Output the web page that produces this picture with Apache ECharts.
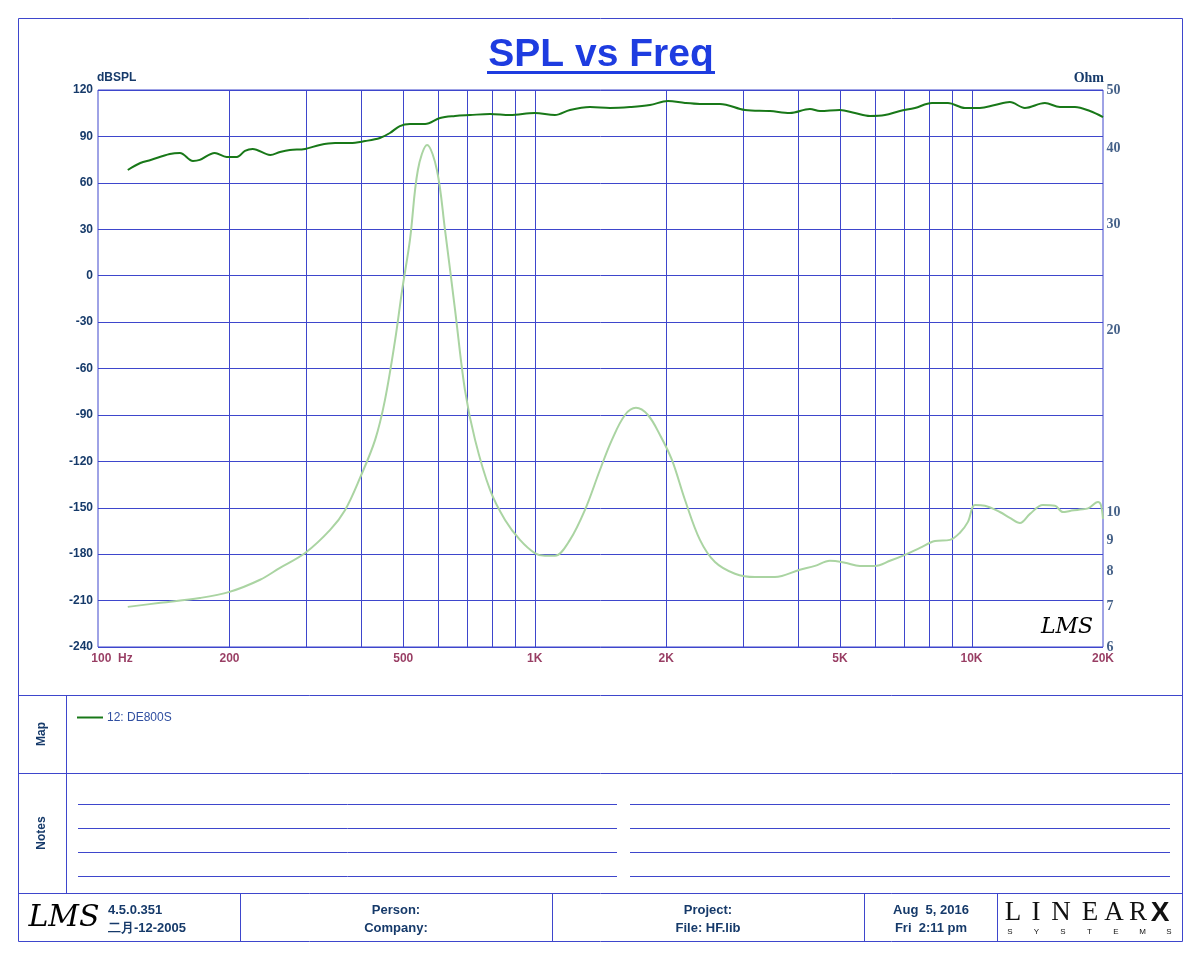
<!DOCTYPE html>
<html>
<head>
<meta charset="utf-8">
<style>html,body{margin:0;padding:0;background:#fff}#c{width:1200px;height:960px}</style>
<script src="https://cdn.jsdelivr.net/npm/echarts@6/dist/echarts.min.js"></script>
</head>
<body>
<div id="c"></div>
<script>
// ---- data ----
const splFreq = [117,125,132,146,154,165,171,185,197,208,217,226,248,261,275,298,322,349,378,409,442,466,491,518,561,607,657,711,790,878,1000,1112,1204,1338,1487,1652,1835,2018,2208,2389,2655,3029,3455,3839,4266,4498,4996,5408,5854,6335,6857,7421,8117,8831,9658,10450,11310,12240,13250,14720,15940,17250,18670,20000];
const splDb = [68.3,72.8,74.8,78.6,79.3,74.1,74.8,79.3,76.7,76.7,80.6,81.9,78.0,79.9,81.2,81.9,84.5,85.7,85.7,87.0,89.0,92.2,96.7,98.0,98.0,101.9,103.2,103.8,104.5,103.8,105.1,103.8,107.1,109.0,108.4,109.0,110.3,112.9,111.6,111.0,111.0,107.1,106.4,105.1,107.7,106.4,107.1,105.1,103.2,103.8,106.4,108.4,111.6,111.6,108.4,108.4,110.3,112.2,108.4,111.6,109.0,109.0,106.4,102.5];
const zFreq = [117,139,171,200,235,261,298,340,368,398,431,454,479,497,518,540,567,597,623,657,692,730,790,855,925,1000,1055,1112,1204,1303,1410,1502,1609,1705,1816,1935,2061,2208,2389,2586,2873,3192,3547,4046,4380,4740,5131,5552,6009,6505,7039,7619,8246,8922,9407,9813,10180,10730,11610,12240,12910,13610,14570,15520,16190,16800,17710,18480,19480,19780,20000];
const zOhm = [6.99,7.10,7.23,7.40,7.75,8.11,8.58,9.37,10.11,11.42,13.20,15.37,19.31,23.35,28.3,36.88,40.56,36.88,29.35,21.64,15.97,13.20,10.91,9.73,9.02,8.58,8.49,8.49,9.02,10.11,11.77,13.20,14.51,14.91,14.51,13.45,12.23,10.50,9.02,8.29,7.93,7.83,7.83,8.05,8.17,8.33,8.27,8.17,8.17,8.33,8.52,8.75,8.98,9.02,9.27,9.66,10.30,10.27,10.03,9.81,9.62,9.96,10.30,10.27,10.03,10.07,10.13,10.17,10.42,10.30,9.77];
const xTickFreqs = [100,200,500,1000,2000,5000,10000,20000];
const xTickLabels = ['100  Hz','200','500','1K','2K','5K','10K','20K'];
const xGridFreqs = [200,300,400,500,600,700,800,900,1000,2000,3000,4000,5000,6000,7000,8000,9000,10000];
const ohmTicks = [6,7,8,9,10,20,30,40,50];
const seriesName = '12: DE800S';

// ---- styles ----
const BLUE = '#3e46cc';
const NAVY = '#163a6a';
const MAROON = '#7e0c3c';
const SPL_COLOR = '#187818';
const Z_COLOR = '#aad4a2';
const SANS = '"Liberation Sans", Arial, sans-serif';
const NARROW = '"Liberation Sans Narrow", "Arial Narrow", "Liberation Sans", sans-serif';
const SERIF = '"Liberation Serif", "Times New Roman", serif';

const chart = echarts.init(document.getElementById('c'), null, {renderer: 'canvas'});

function hline(x1, x2, y, w, c) {
  return {type: 'line', silent: true, shape: {x1: x1, y1: y, x2: x2, y2: y}, style: {stroke: c || BLUE, lineWidth: w || 1}};
}
function vline(x, y1, y2, w, c) {
  return {type: 'line', silent: true, shape: {x1: x, y1: y1, x2: x, y2: y2}, style: {stroke: c || BLUE, lineWidth: w || 1}};
}
function txt(x, y, t, font, color, align, valign, rot) {
  return {type: 'text', silent: true, x: x, y: y, rotation: rot || 0,
    style: {text: t, font: font, fill: color || NAVY, textAlign: align || 'left', textVerticalAlign: valign || 'middle'}};
}

const graphics = [];
graphics.push({type: 'rect', silent: true, shape: {x: 18.5, y: 18.5, width: 1164, height: 923}, style: {fill: null, stroke: BLUE, lineWidth: 1}});
graphics.push(hline(18, 1183, 695.5));
graphics.push(hline(18, 1183, 773.5));
graphics.push(hline(18, 1183, 893.5));
graphics.push(vline(66.5, 695, 893));
[240.5, 552.5, 864.5, 997.5].forEach(x => graphics.push(vline(x, 893, 942)));
// notes lines
[804.5, 828.5, 852.5, 876.5].forEach(y => {
  graphics.push(hline(78, 617, y));
  graphics.push(hline(630, 1170, y));
});
// title
graphics.push(txt(601, 55, 'SPL vs Freq', 'bold 39px ' + SANS, '#1e3ce0', 'center', 'middle'));
graphics.push({type: 'rect', silent: true, shape: {x: 487, y: 71, width: 228, height: 3}, style: {fill: '#1e3ce0'}});
// axis names
graphics.push(txt(97, 78, 'dBSPL', 'bold 12px ' + SANS, NAVY, 'left', 'middle'));
graphics.push(txt(1104, 78, 'Ohm', 'bold 14px ' + SERIF, NAVY, 'right', 'middle'));
// LMS in plot
graphics.push(txt(1067, 627, 'LMS', 'italic 22px "DejaVu Serif", serif', '#000', 'center', 'middle'));
// Map / Notes labels
graphics.push(txt(42, 734, 'Map', 'bold 12px ' + SANS, NAVY, 'center', 'middle', Math.PI / 2));
graphics.push(txt(42, 833, 'Notes', 'bold 12px ' + SANS, NAVY, 'center', 'middle', Math.PI / 2));
// legend
graphics.push(hline(77, 103, 717.5, 2, SPL_COLOR));
graphics.push(txt(107, 718, seriesName, '12px ' + SANS, '#2f4ea0', 'left', 'middle'));
// footer
graphics.push(txt(64, 918, 'LMS', 'italic 30px "DejaVu Serif", serif', '#000', 'center', 'middle'));
graphics.push(txt(108, 910, '4.5.0.351', 'bold 13px ' + NARROW, NAVY, 'left', 'middle'));
graphics.push(txt(108, 928, '二月-12-2005', 'bold 13px ' + NARROW, NAVY, 'left', 'middle'));
graphics.push(txt(396, 910, 'Person:', 'bold 13px ' + NARROW, NAVY, 'center', 'middle'));
graphics.push(txt(396, 928, 'Company:', 'bold 13px ' + NARROW, NAVY, 'center', 'middle'));
graphics.push(txt(708, 910, 'Project:', 'bold 13px ' + NARROW, NAVY, 'center', 'middle'));
graphics.push(txt(708, 928, 'File: HF.lib', 'bold 13px ' + NARROW, NAVY, 'center', 'middle'));
graphics.push(txt(931, 910, 'Aug  5, 2016', 'bold 13px ' + NARROW, NAVY, 'center', 'middle'));
graphics.push(txt(931, 928, 'Fri  2:11 pm', 'bold 13px ' + NARROW, NAVY, 'center', 'middle'));
// LINEAR X logo
const logoLetters = ['L','I','N','E','A','R'];
const logoX = [1013, 1036, 1061, 1090, 1114, 1138];
logoLetters.forEach((l, i) => graphics.push(txt(logoX[i], 913, l, '27px ' + SERIF, '#111', 'center', 'middle')));
graphics.push(txt(1160, 913, 'X', 'bold 28px ' + SANS, '#111', 'center', 'middle'));
const sysLetters = ['S','Y','S','T','E','M','S'];
sysLetters.forEach((l, i) => graphics.push(txt(1010 + i * 26.5, 932, l, '8px ' + SANS, '#111', 'center', 'middle')));

const option = {
  backgroundColor: '#fff',
  animation: false,
  grid: {left: 98, top: 90, width: 1005, height: 557, show: true, borderColor: BLUE, borderWidth: 1, backgroundColor: '#fff', containLabel: false},
  xAxis: {
    type: 'log', logBase: 10, min: 100, max: 20000,
    axisLine: {show: false}, axisTick: {show: false}, axisLabel: {show: false}, splitLine: {show: false}
  },
  yAxis: [
    {type: 'value', min: -240, max: 120, interval: 30, position: 'left',
      axisLine: {show: false}, axisTick: {show: false},
      axisLabel: {color: NAVY, fontWeight: 'bold', fontSize: 12, fontFamily: SANS, margin: 5},
      splitLine: {show: true, lineStyle: {color: BLUE, width: 1}}},
    {type: 'log', logBase: 10, min: 6, max: 50, position: 'right',
      axisLine: {show: false}, axisTick: {show: false}, axisLabel: {show: false}, splitLine: {show: false}}
  ],
  graphic: graphics,
  series: [
    {
      type: 'custom', name: 'vgrid', z: 1, silent: true, clip: false,
      data: xGridFreqs.map(f => [f]),
      encode: {x: 0},
      renderItem: function (params, api) {
        const top = api.coord([api.value(0), 120]);
        const bot = api.coord([api.value(0), -240]);
        const x = Math.round(top[0]) + 0.5;
        return {type: 'line', silent: true,
          shape: {x1: x, y1: top[1], x2: x, y2: bot[1]},
          style: {stroke: BLUE, lineWidth: 1}};
      }
    },
    {
      type: 'scatter', name: 'xticks', z: 1, clip: false, silent: true,
      symbolSize: 1, itemStyle: {color: 'rgba(0,0,0,0)'},
      data: xTickFreqs.map((f, i) => ({value: [f, -240], label: {formatter: xTickLabels[i], offset: i === 0 ? [14, 0] : [0, 0]}})),
      label: {show: true, position: 'bottom', distance: 5, color: MAROON, fontWeight: 'bold', fontSize: 12, fontFamily: SANS}
    },
    {
      type: 'scatter', name: 'ohmticks', yAxisIndex: 1, z: 1, clip: false, silent: true,
      symbolSize: 1, itemStyle: {color: 'rgba(0,0,0,0)'},
      data: ohmTicks.map(v => ({value: [20000, v], label: {formatter: String(v)}})),
      label: {show: true, position: 'right', distance: 3, color: NAVY, fontWeight: 'bold', fontSize: 14, fontFamily: SERIF}
    },
    {
      type: 'line', name: 'Impedance', yAxisIndex: 1, z: 3, smooth: 0.35, symbol: 'none',
      lineStyle: {color: Z_COLOR, width: 2},
      data: zFreq.map((f, i) => [f, zOhm[i]])
    },
    {
      type: 'line', name: seriesName, yAxisIndex: 0, z: 4, smooth: 0.35, symbol: 'none',
      lineStyle: {color: SPL_COLOR, width: 2},
      data: splFreq.map((f, i) => [f, splDb[i]])
    }
  ]
};
chart.setOption(option);
</script>
</body>
</html>
